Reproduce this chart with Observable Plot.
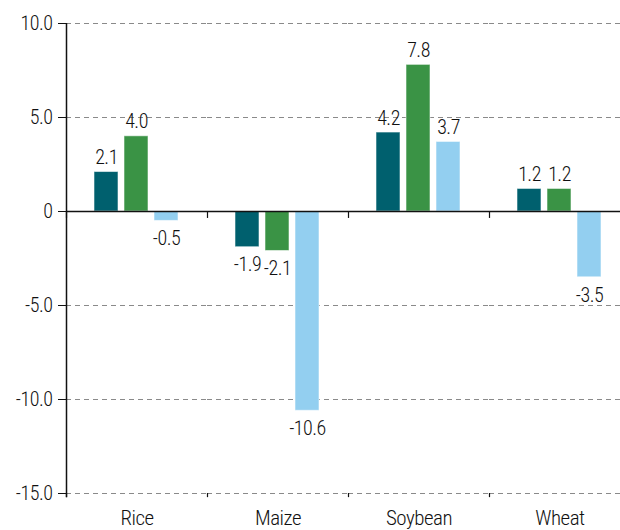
<!DOCTYPE html>
<html>
<head>
<meta charset="utf-8">
<script src="https://cdn.jsdelivr.net/npm/d3@7"></script>
<script src="https://cdn.jsdelivr.net/npm/@observablehq/plot@0.6"></script>
<style>
  html, body { margin: 0; padding: 0; background: #fff; overflow: hidden; }
  #chart svg text { letter-spacing: -0.5px; }
</style>
</head>
<body>
<div id="chart"></div>
<script>
// ---- Data ----
const categories = ["Rice", "Maize", "Soybean", "Wheat"];
const seriesNames = ["Series 1", "Series 2", "Series 3"];
const series1 = [2.1, -1.9, 4.2, 1.2];
const series2 = [4.0, -2.1, 7.8, 1.2];
const series3 = [-0.5, -10.6, 3.7, -3.5];
const seriesColors = ["#00606e", "#3a9345", "#93cff0"];
const yTicks = [-15, -10, -5, 0, 5, 10];
const yDomain = [-15, 10];

const allSeries = [series1, series2, series3];
const data = categories.flatMap((c, i) =>
  allSeries.map((s, j) => ({category: c, series: seriesNames[j], value: s[i]}))
);

// ---- Layout ----
const FONT = "'Roboto Condensed', 'Liberation Sans Narrow', 'DejaVu Sans Condensed', sans-serif";
const width = 620, height = 530;
const marginLeft = 66, marginRight = -10, marginTop = 23, marginBottom = 37;
const bandW = (width - marginLeft - marginRight) / categories.length;
const TEXT = "#111";

const chart = Plot.plot({
  width, height, marginLeft, marginRight, marginTop, marginBottom,
  style: {fontFamily: FONT, fontSize: "20px", fontWeight: 300, color: TEXT, background: "white", overflow: "hidden"},
  fx: {domain: categories, padding: 0, label: null},
  x: {domain: seriesNames, paddingInner: 0.1935, paddingOuter: 0.871, axis: null},
  y: {domain: yDomain, ticks: yTicks, label: null},
  color: {domain: seriesNames, range: seriesColors},
  marks: [
    Plot.gridY(yTicks.filter(d => d !== 0), {stroke: "#8a8a8a", strokeOpacity: 1, strokeDasharray: "5,4", strokeWidth: 1}),
    Plot.barY(data, {fx: "category", x: "series", y: "value", fill: "series", stroke: "white", strokeWidth: 1, strokeOpacity: 0.55}),
    Plot.ruleY([0], {stroke: "#111", strokeWidth: 1.5}),
    // category boundary ticks on zero line and at the bottom
    Plot.ruleX(categories, {fx: d => d, x: null, y1: 0, y2: -0.37, dx: -bandW / 2, stroke: "#111", strokeWidth: 1.2}),
    Plot.ruleX(categories, {fx: d => d, x: null, y1: yDomain[0], y2: yDomain[0] - 0.22, dx: -bandW / 2, stroke: "#111", strokeWidth: 1.2}),
    // y axis line
    Plot.ruleX([categories[0]], {fx: d => d, x: null, y1: yDomain[0] - 0.22, y2: yDomain[1], dx: -bandW / 2, stroke: "#111", strokeWidth: 1.5}),
    // value labels
    Plot.text(data.filter(d => d.value >= 0), {fx: "category", x: "series", y: "value", text: d => d.value.toFixed(1), lineAnchor: "bottom", dy: -8, fontSize: 20, fontWeight: 300, fill: TEXT}),
    Plot.text(data.filter(d => d.value < 0), {fx: "category", x: "series", y: "value", text: d => d.value.toFixed(1), lineAnchor: "top", dy: 10, fontSize: 20, fontWeight: 300, fill: TEXT}),
    Plot.axisY(yTicks, {tickSize: 8, tickPadding: 6, tickFormat: d => d === 0 ? "0" : d.toFixed(1), fontSize: 20, fontWeight: 300, label: null, stroke: "#111", fill: TEXT}),
    Plot.axisFx({anchor: "bottom", tickSize: 0, tickPadding: 17, fontSize: 21, fontWeight: 300, label: null, fill: TEXT})
  ]
});
document.getElementById("chart").append(chart);
</script>
</body>
</html>
